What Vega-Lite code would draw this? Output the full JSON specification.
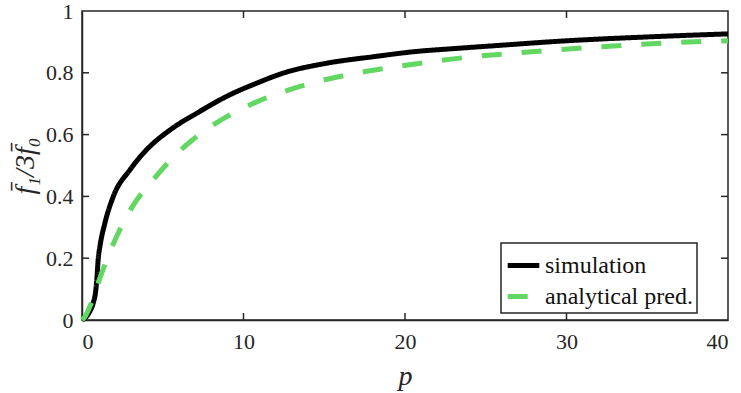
{
  "$schema": "https://vega.github.io/schema/vega-lite/v6.json",
  "width": 646,
  "height": 309,
  "autosize": {"type": "none"},
  "padding": {"left": 82, "top": 11, "right": 13, "bottom": 73},
  "background": "white",
  "config": {
    "view": {"stroke": "#262626", "strokeWidth": 1.5},
    "font": "serif",
    "axis": {
      "grid": false,
      "domainColor": "#262626",
      "domainWidth": 1.5,
      "labelFont": "serif",
      "labelFontSize": 22,
      "labelColor": "#262626",
      "titleFont": "serif",
      "titleFontWeight": "normal",
      "titleFontStyle": "italic",
      "titleColor": "#262626"
    }
  },
  "datasets": {
    "curves": [
      {"series": "simulation", "p": 0, "v": 0},
      {"series": "simulation", "p": 0.2, "v": 0.007},
      {"series": "simulation", "p": 0.45, "v": 0.025},
      {"series": "simulation", "p": 0.7, "v": 0.056},
      {"series": "simulation", "p": 0.85, "v": 0.095},
      {"series": "simulation", "p": 0.93, "v": 0.14},
      {"series": "simulation", "p": 1.0, "v": 0.195},
      {"series": "simulation", "p": 1.11, "v": 0.238},
      {"series": "simulation", "p": 1.42, "v": 0.314},
      {"series": "simulation", "p": 1.94, "v": 0.4},
      {"series": "simulation", "p": 2.97, "v": 0.486},
      {"series": "simulation", "p": 4.0, "v": 0.551},
      {"series": "simulation", "p": 5.45, "v": 0.615},
      {"series": "simulation", "p": 7.1, "v": 0.669},
      {"series": "simulation", "p": 9.16, "v": 0.729},
      {"series": "simulation", "p": 10.8, "v": 0.766},
      {"series": "simulation", "p": 12.46, "v": 0.799},
      {"series": "simulation", "p": 15.15, "v": 0.831},
      {"series": "simulation", "p": 18.04, "v": 0.852},
      {"series": "simulation", "p": 20.5, "v": 0.868},
      {"series": "simulation", "p": 23.2, "v": 0.879},
      {"series": "simulation", "p": 25.9, "v": 0.889},
      {"series": "simulation", "p": 29.8, "v": 0.903},
      {"series": "simulation", "p": 34.97, "v": 0.916},
      {"series": "simulation", "p": 40, "v": 0.926},
      {"series": "analytical pred.", "p": 0, "v": 0},
      {"series": "analytical pred.", "p": 0.2, "v": 0.012},
      {"series": "analytical pred.", "p": 0.5, "v": 0.045},
      {"series": "analytical pred.", "p": 1.22, "v": 0.152},
      {"series": "analytical pred.", "p": 2.15, "v": 0.271},
      {"series": "analytical pred.", "p": 3.18, "v": 0.372},
      {"series": "analytical pred.", "p": 4.41, "v": 0.454},
      {"series": "analytical pred.", "p": 5.65, "v": 0.527},
      {"series": "analytical pred.", "p": 6.89, "v": 0.585},
      {"series": "analytical pred.", "p": 8.96, "v": 0.658},
      {"series": "analytical pred.", "p": 10.82, "v": 0.706},
      {"series": "analytical pred.", "p": 13.9, "v": 0.762},
      {"series": "analytical pred.", "p": 16.4, "v": 0.793},
      {"series": "analytical pred.", "p": 18.97, "v": 0.816},
      {"series": "analytical pred.", "p": 21.5, "v": 0.835},
      {"series": "analytical pred.", "p": 24.0, "v": 0.851},
      {"series": "analytical pred.", "p": 26.6, "v": 0.863},
      {"series": "analytical pred.", "p": 31.8, "v": 0.883},
      {"series": "analytical pred.", "p": 36.9, "v": 0.898},
      {"series": "analytical pred.", "p": 40, "v": 0.904}
    ],
    "xticks": [{"t": 10}, {"t": 20}, {"t": 30}],
    "yticks": [{"t": 0.2}, {"t": 0.4}, {"t": 0.6}, {"t": 0.8}]
  },
  "layer": [
    {
      "data": {"name": "curves"},
      "mark": {"type": "line", "strokeWidth": 5, "strokeCap": "butt", "strokeJoin": "round", "interpolate": "monotone"},
      "encoding": {
        "x": {
          "field": "p", "type": "quantitative",
          "scale": {"domain": [0, 40], "nice": false},
          "axis": {"orient": "bottom", "values": [0, 10, 20, 30, 40], "ticks": false, "title": "p", "labelFont": "serif", "titleFont": "serif", "titleFontSize": 28, "labelPadding": 11, "titlePadding": 10}
        },
        "y": {
          "field": "v", "type": "quantitative",
          "scale": {"domain": [0, 1], "nice": false},
          "axis": {"orient": "left", "values": [0, 0.2, 0.4, 0.6, 0.8, 1], "ticks": false, "format": "~g", "title": "f̄₁/3f̄₀", "labelFont": "serif", "titleFont": "serif", "titleFontSize": 28, "labelPadding": 9, "titlePadding": 6}
        },
        "color": {
          "field": "series", "type": "nominal",
          "scale": {"domain": ["simulation", "analytical pred."], "range": ["#000000", "#62d762"]},
          "legend": {
            "title": null,
            "orient": "none",
            "legendX": 419,
            "legendY": 232,
            "strokeColor": "#262626",
            "fillColor": "white",
            "padding": 4,
            "labelFontSize": 24,
            "labelColor": "#111111",
            "labelFont": "serif",
            "symbolType": "stroke",
            "symbolSize": 1000,
            "symbolStrokeWidth": 5,
            "labelOffset": 3,
            "rowPadding": 0,
            "cornerRadius": 0,
            "encode": {"legend": {"update": {"strokeWidth": {"value": 1.5}}}}
          }
        },
        "strokeDash": {
          "field": "series", "type": "nominal",
          "scale": {"domain": ["simulation", "analytical pred."], "range": [[1, 0], [20, 20]]},
          "legend": null
        }
      }
    },
    {
      "data": {"name": "xticks"},
      "mark": {"type": "rule", "color": "#262626", "strokeWidth": 1.5},
      "encoding": {
        "x": {"field": "t", "type": "quantitative", "axis": null},
        "y": {"datum": 0, "axis": null},
        "y2": {"datum": 0.0226}
      }
    },
    {
      "data": {"name": "xticks"},
      "mark": {"type": "rule", "color": "#262626", "strokeWidth": 1.5},
      "encoding": {
        "x": {"field": "t", "type": "quantitative", "axis": null},
        "y": {"datum": 1, "axis": null},
        "y2": {"datum": 0.9774}
      }
    },
    {
      "data": {"name": "yticks"},
      "mark": {"type": "rule", "color": "#262626", "strokeWidth": 1.5},
      "encoding": {
        "y": {"field": "t", "type": "quantitative", "axis": null},
        "x": {"datum": 0, "axis": null},
        "x2": {"datum": 0.433}
      }
    },
    {
      "data": {"name": "yticks"},
      "mark": {"type": "rule", "color": "#262626", "strokeWidth": 1.5},
      "encoding": {
        "y": {"field": "t", "type": "quantitative", "axis": null},
        "x": {"datum": 40, "axis": null},
        "x2": {"datum": 39.567}
      }
    }
  ],
  "resolve": {"axis": {"x": "independent", "y": "independent"}}
}
